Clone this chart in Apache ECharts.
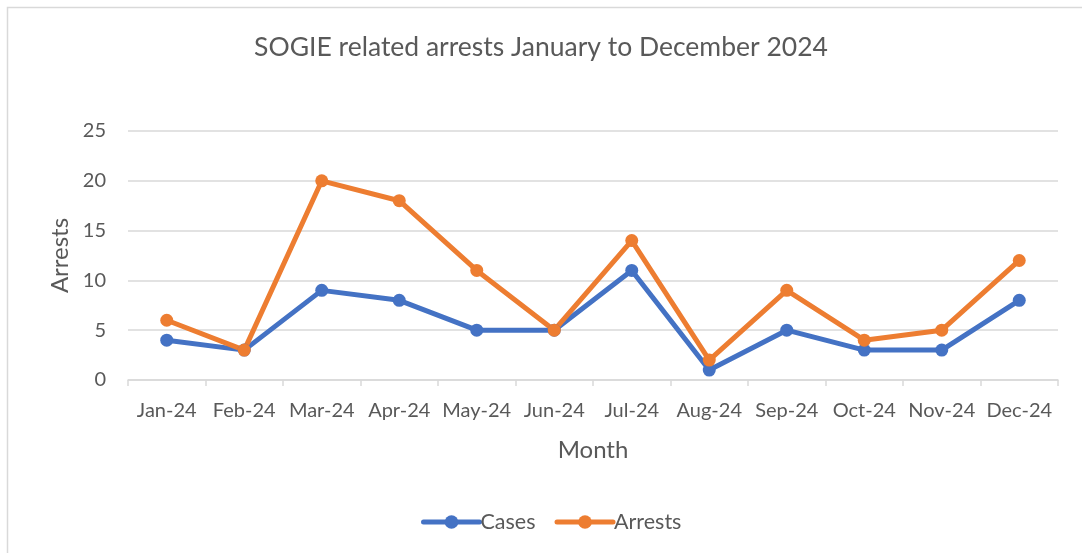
<!DOCTYPE html>
<html>
<head>
<meta charset="utf-8">
<script src="https://cdn.jsdelivr.net/npm/echarts@6/dist/echarts.min.js"></script>
<style>
  html, body { margin: 0; padding: 0; background: #ffffff; }
  #chart { width: 1082px; height: 553px; }
</style>
</head>
<body>
<div id="chart"></div>
<script>
// Monthly SOGIE-related cases and arrests, 2024
const months = ['Jan-24', 'Feb-24', 'Mar-24', 'Apr-24', 'May-24', 'Jun-24',
                'Jul-24', 'Aug-24', 'Sep-24', 'Oct-24', 'Nov-24', 'Dec-24'];
const cases   = [4, 3, 9, 8, 5, 5, 11, 1, 5, 3, 3, 8];
const arrests = [6, 3, 20, 18, 11, 5, 14, 2, 9, 4, 5, 12];

const FONT = 'Lato, "Open Sans", sans-serif';
const TEXT = '#595959';
const GRID = '#d9d9d9';

const chart = echarts.init(document.getElementById('chart'), null, { renderer: 'canvas' });

function lineSeries(name, data, color) {
  return {
    name: name,
    type: 'line',
    data: data,
    symbol: 'circle',
    symbolSize: 13,
    lineStyle: { width: 5, color: color, cap: 'round', join: 'round' },
    itemStyle: { color: color },
    emphasis: { disabled: true },
    animation: false
  };
}

chart.setOption({
  backgroundColor: '#ffffff',
  textStyle: { fontFamily: FONT },
  graphic: [{
    type: 'rect',
    shape: { x: 7.5, y: 7.5, width: 1100, height: 600 },
    style: { fill: 'none', stroke: GRID, lineWidth: 1.5 },
    silent: true,
    z: 0
  }],
  title: {
    text: 'SOGIE related arrests January to December 2024',
    left: 'center',
    top: 29,
    textStyle: { fontFamily: FONT, fontSize: 26.5, fontWeight: 'normal', color: TEXT }
  },
  legend: {
    top: 506,
    left: 416,
    itemWidth: 56,
    itemHeight: 17,
    itemGap: 19,
    lineStyle: { width: 5, cap: 'round' },
    textStyle: { fontFamily: FONT, fontSize: 21.5, color: TEXT, padding: [0, 0, 0, -4] },
    data: ['Cases', 'Arrests']
  },
  grid: { left: 128, right: 24, top: 131, bottom: 173, containLabel: false },
  xAxis: {
    type: 'category',
    data: months,
    boundaryGap: true,
    name: 'Month',
    nameLocation: 'middle',
    nameGap: 58,
    nameTextStyle: { fontFamily: FONT, fontSize: 24, color: TEXT },
    axisLine: { lineStyle: { color: GRID, width: 1.5 } },
    axisTick: { show: true, length: 6, lineStyle: { color: GRID, width: 1.5 } },
    axisLabel: { fontFamily: FONT, fontSize: 20, color: TEXT, margin: 21, interval: 0 }
  },
  yAxis: {
    type: 'value',
    min: 0,
    max: 25,
    interval: 5,
    name: 'Arrests',
    nameLocation: 'middle',
    nameGap: 56,
    nameRotate: 90,
    nameTextStyle: { fontFamily: FONT, fontSize: 24, color: TEXT },
    axisLine: { show: false },
    axisTick: { show: false },
    axisLabel: { fontFamily: FONT, fontSize: 20, color: TEXT, margin: 22 },
    splitLine: { lineStyle: { color: GRID, width: 1.5 } }
  },
  series: [
    lineSeries('Cases', cases, '#4472C4'),
    lineSeries('Arrests', arrests, '#ED7D31')
  ]
});
</script>
</body>
</html>
